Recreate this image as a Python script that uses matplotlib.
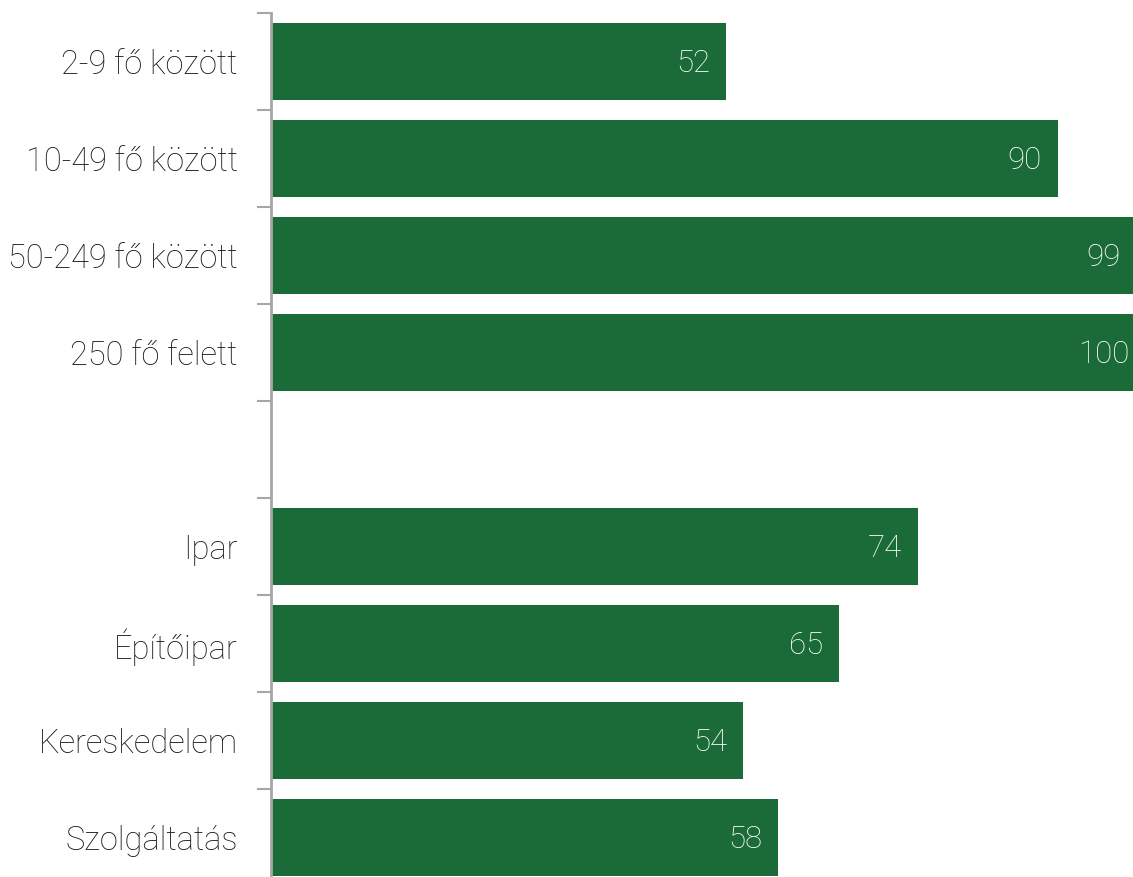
import matplotlib
matplotlib.use("Agg")
import matplotlib.pyplot as plt

categories = [
    "2-9 fő között",
    "10-49 fő között",
    "50-249 fő között",
    "250 fő felett",
    "",
    "Ipar",
    "Építőipar",
    "Kereskedelem",
    "Szolgáltatás",
]
values = [52, 90, 99, 100, None, 74, 65, 54, 58]

bar_color = "#1a6b38"
spine_color = "#a6a6a6"
xmax = 98.6

plt.rcParams["font.family"] = ["Roboto", "DejaVu Sans"]

fig = plt.figure(figsize=(11.33, 8.77), dpi=100)
W, H = 1133, 877
slot = 97
top = 13
n = len(categories)
ax = fig.add_axes([271 / W, (H - top - n * slot) / H, (W - 271) / W, n * slot / H])

ys = list(range(n))
for y, v in zip(ys, values):
    if v is None:
        continue
    ax.barh(y, v, height=0.8, color=bar_color, edgecolor="none")
    ax.text(v - 1.8, y + 0.02, f"{v}", ha="right", va="center",
            color="white", fontsize=22.5, fontweight="light")

ax.set_xlim(0, xmax)
ax.set_ylim(n - 0.5, -0.5)

ax.set_yticks([i + 0.5 for i in range(-1, n)], minor=False)
ax.set_yticklabels([])
ax.set_yticks(ys, minor=True)
ax.set_yticklabels(categories, minor=True, fontsize=23.5, fontweight="light", color="#1a1a1a")
ax.tick_params(axis="y", which="major", length=10, width=1.5, color=spine_color)
ax.tick_params(axis="y", which="minor", length=0, pad=24)
ax.set_xticks([])

for s in ["top", "right", "bottom"]:
    ax.spines[s].set_visible(False)
ax.spines["left"].set_color(spine_color)
ax.spines["left"].set_linewidth(2)

fig.savefig("out.png", dpi=100)
